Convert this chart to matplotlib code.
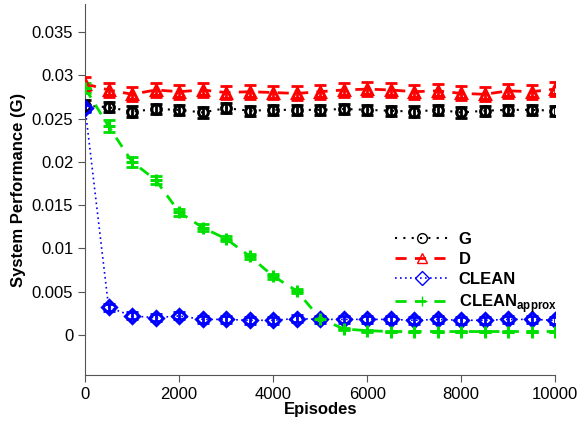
import numpy as np
import matplotlib
matplotlib.use("Agg")
import matplotlib.pyplot as plt

plt.rcParams['font.family'] = ['Liberation Sans', 'DejaVu Sans']
plt.rcParams['mathtext.fontset'] = 'custom'
plt.rcParams['mathtext.bf'] = 'Liberation Sans:bold'

episodes = list(range(0, 10001, 500))

g_mean = [0.0265, 0.0263, 0.0258, 0.0261, 0.0260, 0.0257, 0.0262, 0.0259, 0.0260, 0.0260,
          0.0260, 0.0261, 0.0260, 0.0259, 0.0258, 0.0260, 0.0257, 0.0259, 0.0260, 0.0260, 0.0259]
g_err = [0.0006] * 21

d_mean = [0.0290, 0.0283, 0.0278, 0.0283, 0.0281, 0.0283, 0.0280, 0.0281, 0.0280, 0.0279,
          0.0281, 0.0283, 0.0284, 0.0283, 0.0281, 0.0282, 0.0279, 0.0278, 0.0282, 0.0281, 0.0284]
d_err = [0.0008] * 21

clean_mean = [0.0262, 0.0032, 0.0022, 0.0020, 0.0022, 0.0018, 0.0018, 0.0017, 0.0017, 0.0019,
              0.0018, 0.0018, 0.0018, 0.0018, 0.0017, 0.0018, 0.0017, 0.0017, 0.0018, 0.0018, 0.0017]
clean_err = [0.0004] * 21

approx_mean = [0.0285, 0.0241, 0.0200, 0.0179, 0.0142, 0.0124, 0.0111, 0.0091, 0.0068, 0.0051,
               0.0019, 0.0007, 0.0005, 0.0004, 0.0004, 0.0004, 0.0004, 0.0004, 0.0004, 0.0004, 0.0004]
approx_err = [0.0006, 0.0007, 0.0006, 0.0005, 0.0004, 0.0004, 0.0003, 0.0003, 0.0003, 0.0002,
              0.0002, 0.0001, 0.0001, 0.0001, 0.0001, 0.0001, 0.0001, 0.0001, 0.0001, 0.0001, 0.0001]

fig = plt.figure(figsize=(5.79, 4.24), dpi=100)
ax = fig.add_axes([0.147, 0.116, 0.812, 0.874])

green = '#00e000'
series = [
  (g_mean, g_err, 'k', 'o', (0, (1, 3)), 1.5, 'G'),
  (d_mean, d_err, 'red', '^', (0, (4, 3)), 2.0, 'D'),
  (clean_mean, clean_err, 'blue', 'D', (0, (1, 2)), 1.2, 'CLEAN'),
  (approx_mean, approx_err, green, '+', (0, (4, 3)), 2.0, r'CLEAN$_{\mathbf{approx}}$'),
]
for mean, err, col, mk, ls, lw, lab in series:
  ax.errorbar(episodes, mean, yerr=err, fmt='none', ecolor=col, elinewidth=2,
              capsize=4, capthick=2, zorder=3)
  ax.plot(episodes, mean, color=col, linestyle=ls, linewidth=lw, zorder=2)
  ax.plot(episodes, mean, linestyle='none', marker=mk, markersize=7 if mk != '+' else 9,
          markerfacecolor='none', markeredgecolor=col, markeredgewidth=2.2, zorder=4)
  ax.plot([], [], color=col, linestyle=ls, linewidth=lw, marker=mk, markersize=7,
          markerfacecolor='none', markeredgecolor=col, markeredgewidth=1, label=lab)

ax.set_xlim(0, 10000)
ax.set_ylim(-0.0046, 0.0382)
ax.set_xticks([0, 2000, 4000, 6000, 8000, 10000])
ax.set_yticks([0, 0.005, 0.01, 0.015, 0.02, 0.025, 0.03, 0.035])
ax.set_yticklabels(['0', '0.005', '0.01', '0.015', '0.02', '0.025', '0.03', '0.035'])
ax.tick_params(labelsize=12, direction='out', length=5, color='#555555')
for s in ['top', 'right']:
  ax.spines[s].set_visible(False)
for s in ['left', 'bottom']:
  ax.spines[s].set_color('#555555')
ax.set_xlabel('Episodes', fontsize=12, fontweight='bold', labelpad=0)
ax.set_ylabel('System Performance (G)', fontsize=12, fontweight='bold')

leg = ax.legend(loc='upper left', bbox_to_anchor=(0.66, 0.385), frameon=False,
                prop={'weight': 'bold', 'size': 12}, handlelength=3.2,
                labelspacing=0.3, borderpad=0, borderaxespad=0, handletextpad=0.6)

fig.savefig('out.png', dpi=100)
